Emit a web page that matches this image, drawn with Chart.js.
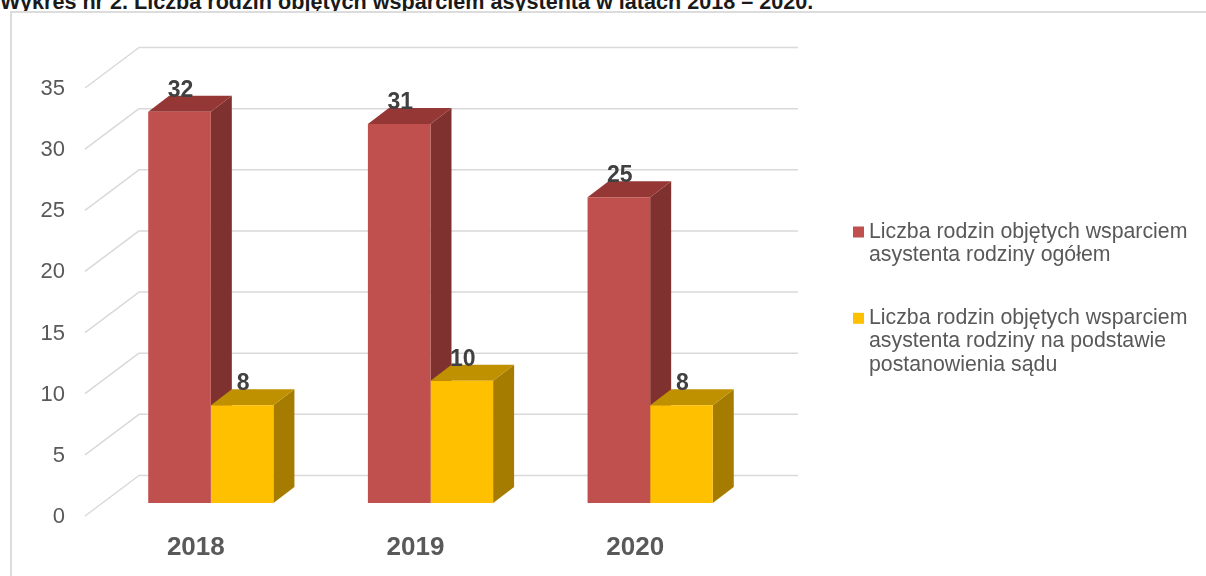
<!DOCTYPE html>
<html>
  <head>
    <meta charset="utf-8">
    <title>Wykres nr 2</title>
    <script src="https://cdn.jsdelivr.net/npm/chart.js"></script>
    <style>
      body {
        margin: 0;
        background: #fff;
        overflow: hidden;
        font-family: "Liberation Sans", Arial, sans-serif;
      }
      #title {
        position: absolute;
        left: 0;
        top: -9px;
        font-size: 21.6px;
        line-height: 21.6px;
        font-weight: bold;
        color: #1a1a1a;
        white-space: nowrap;
      }
      #frame {
        position: absolute;
        left: 10px;
        top: 11px;
        width: 1300px;
        height: 700px;
        border-top: 2px solid #dcdcdc;
        border-left: 2px solid #dcdcdc;
        background: #fff;
      }
      canvas {
        position: absolute;
        left: 0;
        top: 0;
      }
    </style>
  </head>
  <body>
    <div id="title">Wykres nr 2. Liczba rodzin objętych wsparciem asystenta w latach 2018 – 2020.</div>
    <div id="frame"></div>
    <canvas id="chart" width="1206" height="576"></canvas>
    <script>
      const years = ["2018", "2019", "2020"];
      const familiesTotal = [32, 31, 25];
      const familiesCourt = [8, 10, 8];
      const seriesLabels = [
        ["Liczba rodzin objętych wsparciem", "asystenta rodziny ogółem"],
        ["Liczba rodzin objętych wsparciem", "asystenta rodziny na podstawie", "postanowienia sądu"],
      ];
      const yMin = 0;
      const yMax = 35;
      const yStep = 5;

      const fontFamily = '"Liberation Sans", Arial, sans-serif';
      const frontColors = ["#c0504d", "#ffc000"];
      const topColors = ["#953735", "#bf9000"];
      const sideColors = ["#7f3130", "#a67c00"];
      const DX = 21, DY = -16; // bar depth

      function poly(ctx, pts) {
        ctx.beginPath();
        ctx.moveTo(pts[0][0], pts[0][1]);
        for (let i = 1; i < pts.length; i++) ctx.lineTo(pts[i][0], pts[i][1]);
        ctx.closePath();
        ctx.fill();
      }

      const threeD = {
        id: "threeD",
        beforeDatasetsDraw(chart) {
          const { ctx, chartArea, scales } = chart;
          const y = scales.y;
          ctx.save();
          // wall grid lines
          ctx.strokeStyle = "#d9d9d9";
          ctx.lineWidth = 1.5;
          ctx.lineJoin = "round";
          y.ticks.forEach(t => {
            const py = y.getPixelForValue(t.value);
            ctx.beginPath();
            ctx.moveTo(chartArea.left - 16, py + 13);
            ctx.lineTo(chartArea.left + 38, py - 27.5);
            ctx.lineTo(chartArea.right + 38, py - 27.5);
            ctx.stroke();
          });
          // side + top faces, fronts are drawn by chart.js afterwards
          chart.data.datasets.forEach((ds, i) => {
            chart.getDatasetMeta(i).data.forEach(el => {
              const b = el.getProps(["x", "y", "base", "width"], true);
              const l = b.x - b.width / 2, r = b.x + b.width / 2;
              ctx.fillStyle = sideColors[i];
              poly(ctx, [[r, b.y], [r + DX, b.y + DY], [r + DX, b.base + DY], [r, b.base]]);
              ctx.fillStyle = topColors[i];
              poly(ctx, [[l, b.y], [l + DX, b.y + DY], [r + DX, b.y + DY], [r, b.y]]);
            });
          });
          ctx.restore();
        },
        afterDatasetsDraw(chart) {
          const { ctx, chartArea } = chart;
          ctx.save();
          // value labels
          ctx.font = "bold 23px " + fontFamily;
          ctx.fillStyle = "#404040";
          ctx.textAlign = "center";
          ctx.textBaseline = "alphabetic";
          chart.data.datasets.forEach((ds, i) => {
            chart.getDatasetMeta(i).data.forEach((el, j) => {
              const b = el.getProps(["x", "y"], true);
              ctx.fillText(String(ds.data[j]), b.x + 1, b.y - 15);
            });
          });
          // legend
          const lx = chartArea.right + 93;
          let ly = 232;
          ctx.textAlign = "left";
          ctx.textBaseline = "middle";
          ctx.font = "21.3px " + fontFamily;
          seriesLabels.forEach((lines, i) => {
            ctx.fillStyle = frontColors[i];
            ctx.fillRect(lx, ly - 5.5, 11, 11);
            ctx.fillStyle = "#595959";
            lines.forEach((line, k) => ctx.fillText(line, lx + 16, ly + k * 23.3));
            ly += lines.length * 23.3 + 39.7;
          });
          ctx.restore();
        },
      };

      const ctx = document.getElementById("chart").getContext("2d");
      const chart = new Chart(ctx, {
        type: "bar",
        data: {
          labels: years,
          datasets: [
            {
              label: seriesLabels[0].join(" "),
              data: familiesTotal,
              backgroundColor: frontColors[0],
            },
            {
              label: seriesLabels[1].join(" "),
              data: familiesCourt,
              backgroundColor: frontColors[1],
            },
          ],
        },
        options: {
          responsive: false,
          animation: false,
          devicePixelRatio: 1,
          categoryPercentage: 0.57,
          barPercentage: 1.0,
          layout: {
            padding: { top: 75, right: 446, bottom: 0, left: 0 },
          },
          plugins: {
            legend: { display: false },
            tooltip: { enabled: false },
          },
          scales: {
            x: {
              grid: { display: false, drawTicks: false },
              border: { display: false },
              ticks: {
                color: "#595959",
                font: { family: fontFamily, size: 26, weight: "bold" },
                padding: 29,
                labelOffset: -15,
              },
              afterFit: scale => {
                scale.height = 73;
              },
            },
            y: {
              min: yMin,
              max: yMax,
              grid: { display: false, drawTicks: false },
              border: { display: false },
              ticks: {
                stepSize: yStep,
                color: "#595959",
                font: { family: fontFamily, size: 22 },
                padding: 36,
                labelOffset: 14,
              },
              afterFit: scale => {
                scale.width = 101;
              },
            },
          },
        },
        plugins: [threeD],
      });
    </script>
  </body>
</html>
